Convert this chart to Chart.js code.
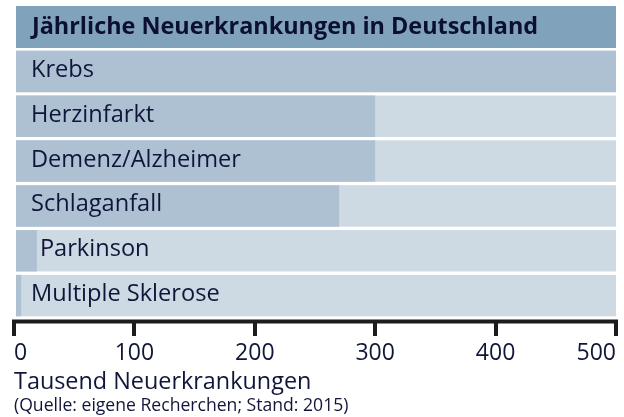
<!DOCTYPE html>
<html><head><meta charset="utf-8">
<script src="https://cdn.jsdelivr.net/npm/chart.js@4"></script>
<style>html,body{margin:0;padding:0;background:#fff}#wrap{width:624px;height:417px;position:relative}</style>
</head><body><div id="wrap"><canvas id="c"></canvas></div>
<script>
const chartTitle = 'Jährliche Neuerkrankungen in Deutschland';
const categories = ['Krebs', 'Herzinfarkt', 'Demenz/Alzheimer', 'Schlaganfall', 'Parkinson', 'Multiple Sklerose'];
const newCases = [500, 300, 300, 270, 19, 6];
const tickValues = [0, 100, 200, 300, 400, 500];
const axisTitle = 'Tausend Neuerkrankungen';
const sourceNote = '(Quelle: eigene Recherchen; Stand: 2015)';

const FONT = '"Open Sans", "Noto Sans", sans-serif';
const HEADER_BG = '#80a2ba';
const BAR = '#aec1d3';
const TRACK = '#cddae4';
const TEXT = '#10163a';
const AXIS = '#1c1c1c';

function edges(chart) {
  const meta = chart.getDatasetMeta(0);
  const p = meta.data[0].getProps(['base'], true);
  const l = p.base;
  const r = chart.scales.x.getPixelForValue(500);
  return { l, r };
}

const decor = {
  id: 'decor',
  beforeDraw(chart) {
    const { ctx } = chart;
    const { l, r } = edges(chart);
    ctx.save();
    ctx.fillStyle = HEADER_BG;
    ctx.fillRect(l, 6, r - l, 42);
    ctx.fillStyle = '#0b0f33';
    ctx.font = 'bold 23.4px ' + FONT;
    ctx.textBaseline = 'alphabetic';
    ctx.textAlign = 'left';
    ctx.fillText(chartTitle, l + 16, 34);
    ctx.restore();
  },
  beforeDatasetsDraw(chart) {
    const { ctx } = chart;
    const { l, r } = edges(chart);
    const meta = chart.getDatasetMeta(0);
    ctx.save();
    ctx.fillStyle = TRACK;
    meta.data.forEach(bar => {
      const p = bar.getProps(['y', 'height'], true);
      ctx.fillRect(l, p.y - p.height / 2, r - l, p.height);
    });
    ctx.restore();
  },
  afterDatasetsDraw(chart) {
    const { ctx } = chart;
    const { l, r } = edges(chart);
    const meta = chart.getDatasetMeta(0);
    ctx.save();
    ctx.fillStyle = TEXT;
    ctx.font = '23.6px ' + FONT;
    ctx.textBaseline = 'alphabetic';
    ctx.textAlign = 'left';
    meta.data.forEach((bar, i) => {
      const p = bar.getProps(['x', 'y'], true);
      const x = (p.x - l) < 40 ? Math.max(l + 15, p.x + 3) : l + 15;
      ctx.fillText(categories[i], x, p.y + 5.5);
    });
    const xs = chart.scales.x;
    const x0 = xs.getPixelForValue(0) - 2;
    const x1 = xs.getPixelForValue(500) + 2;
    ctx.fillStyle = AXIS;
    ctx.fillRect(x0, xs.top + 1.5, x1 - x0, 4);
    ctx.restore();
  }
};

new Chart(document.getElementById('c'), {
  type: 'bar',
  data: {
    labels: categories,
    datasets: [{
      label: 'Neuerkrankungen (Tausend)',
      data: newCases,
      backgroundColor: BAR,
      borderWidth: 0,
      inflateAmount: 0,
      borderSkipped: false,
      barPercentage: 0.924,
      categoryPercentage: 1
    }]
  },
  options: {
    indexAxis: 'y',
    responsive: true,
    maintainAspectRatio: false,
    animation: false,
    layout: { padding: { left: 14, right: 8, top: 49, bottom: 0 } },
    plugins: {
      legend: { display: false },
      tooltip: { enabled: false },
      title: { display: false },
      subtitle: {
        display: true,
        text: sourceNote,
        position: 'bottom',
        align: 'start',
        color: TEXT,
        font: { family: FONT, size: 17.6, weight: 'normal', lineHeight: '21px' },
        padding: { top: 0, bottom: 1 }
      }
    },
    scales: {
      y: {
        display: false,
        grid: { display: false }
      },
      x: {
        min: 0,
        max: 500,
        position: 'bottom',
        afterBuildTicks: s => { s.ticks = tickValues.map(v => ({ value: v })); },
        border: { display: true, width: 3, color: 'rgba(0,0,0,0)' },
        grid: {
          drawOnChartArea: false,
          drawTicks: true,
          tickLength: 18,
          lineWidth: 4,
          color: AXIS
        },
        ticks: {
          align: 'inner',
          padding: 6,
          color: TEXT,
          font: { family: FONT, size: 23, lineHeight: '23px' },
          maxRotation: 0,
          autoSkip: false
        },
        title: {
          display: true,
          text: axisTitle,
          align: 'start',
          color: TEXT,
          font: { family: FONT, size: 23.4, lineHeight: '23px' },
          padding: { top: 0, bottom: 1 }
        }
      }
    }
  },
  plugins: [decor]
});
</script>
</body></html>
